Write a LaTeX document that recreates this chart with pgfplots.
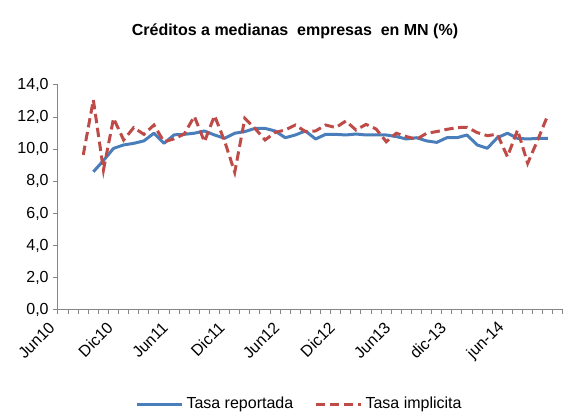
\documentclass[border=0pt]{standalone}
\usepackage{pgfplots}
\pgfplotsset{compat=1.18}
\usepackage{fontspec}
\setmainfont{Liberation Sans}
\definecolor{serblue}{HTML}{4A7EBB}
\definecolor{serred}{HTML}{BE4B48}
\definecolor{axgray}{HTML}{868686}
\begin{document}
\begin{tikzpicture}
\useasboundingbox (0,0) rectangle (423.75pt,313.5pt);
\node[font=\fontsize{12}{14}\selectfont\bfseries] at (221.25pt,290pt) {Créditos a medianas\ \ empresas\ \ en MN (\%)};
\begin{axis}[
  at={(43.5pt,81pt)}, anchor=south west,
  scale only axis, width=378.75pt, height=168.75pt,
  xmin=0, xmax=50, ymin=0, ymax=14,
  axis x line*=bottom, axis y line*=left,
  axis line style={axgray, line width=0.75pt},
  tick style={axgray, line width=0.75pt},
  tick align=outside, major tick length=3.5pt, minor tick length=3pt,
  xtick={0.15,5.92,11.37,16.98,22.4,27.9,33.4,38.9,44.7},
  xticklabels={Jun10,Dic10,Jun11,Dic11,Jun12,Dic12,Jun13,dic-13,jun-14},
  minor xtick={0,1,...,50},
  major x tick style={draw=none},
  xticklabel style={xshift=-5pt, yshift=-7pt, rotate=45, anchor=east, inner sep=1pt},
  ytick={0,2,...,14},
  yticklabel style={/pgf/number format/.cd, use comma, fixed, fixed zerofill, precision=1, assume math mode=true},
  ticklabel style={font=\fontsize{12}{14}\selectfont},
  legend columns=2,
  legend style={at={(0.479,-0.418)}, anchor=center, draw=none, fill=none, font=\fontsize{12}{14}\selectfont,
    /tikz/every even column/.append style={column sep=14pt}},
  legend image code/.code={\draw[#1] (0pt,0pt) -- (34pt,0pt);},
]
\addplot[serblue, line width=2.25pt, line join=round] coordinates {
(3.5,8.6) (4.5,9.3) (5.5,10.06) (6.5,10.27) (7.5,10.37) (8.5,10.52) (9.5,11.0) (10.5,10.37)
(11.5,10.9) (12.5,10.93) (13.5,11.0) (14.5,11.14) (15.5,10.89) (16.5,10.68) (17.5,11.0) (18.5,11.1)
(19.5,11.3) (20.5,11.3) (21.5,11.14) (22.5,10.72) (23.5,10.89) (24.5,11.14) (25.5,10.64) (26.5,10.93)
(27.5,10.93) (28.5,10.89) (29.5,10.95) (30.5,10.89) (31.5,10.89) (32.5,10.89) (33.5,10.79) (34.5,10.64)
(35.5,10.72) (36.5,10.52) (37.5,10.43) (38.5,10.72) (39.5,10.72) (40.5,10.89) (41.5,10.27) (42.5,10.06)
(43.5,10.72) (44.5,11.0) (45.5,10.68) (46.5,10.64) (47.5,10.68) (48.5,10.68)
};
\addlegendentry{Tasa reportada}
\addplot[serred, line width=2.25pt, dash pattern=on 7pt off 3.5pt] coordinates {
(2.5,9.65) (3.5,13.07) (4.5,8.71) (5.5,11.93) (6.5,10.58) (7.5,11.35) (8.5,10.93) (9.5,11.51)
(10.5,10.47) (11.5,10.65) (12.5,10.95) (13.5,12.05) (14.5,10.47) (15.5,12.09) (16.5,10.5) (17.5,8.57)
(18.5,11.93) (19.5,11.3) (20.5,10.58) (21.5,11.05) (22.5,11.2) (23.5,11.51) (24.5,11.1) (25.5,11.14)
(26.5,11.51) (27.5,11.35) (28.5,11.76) (29.5,11.2) (30.5,11.55) (31.5,11.26) (32.5,10.47) (33.5,11.0)
(34.5,10.79) (35.5,10.62) (36.5,11.0) (37.5,11.1) (38.5,11.24) (39.5,11.35) (40.5,11.37) (41.5,11.04)
(42.5,10.85) (43.5,10.93) (44.5,9.54) (45.5,11.2) (46.5,9.13) (47.5,10.58) (48.5,12.13)
};
\addlegendentry{Tasa implicita}
\end{axis}
\end{tikzpicture}
\end{document}
